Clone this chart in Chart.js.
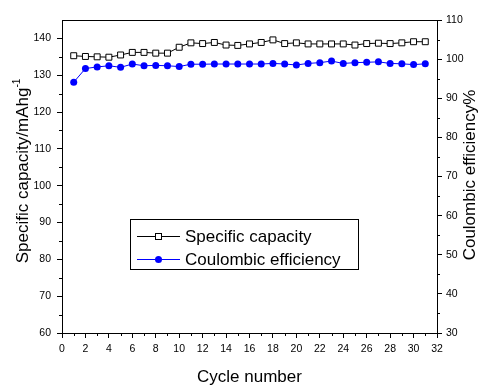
<!DOCTYPE html>
<html>
<head>
<meta charset="utf-8">
<script src="https://cdn.jsdelivr.net/npm/chart.js@4.4.1/dist/chart.umd.min.js"></script>
<style>
  body { margin: 0; background: #fff; }
  #chart { display: block; }
</style>
</head>
<body>
<canvas id="chart" width="479" height="385"></canvas>
<script>
// Cycle data
const cycles = [1, 2, 3, 4, 5, 6, 7, 8, 9, 10, 11, 12, 13, 14, 15, 16,
	17, 18, 19, 20, 21, 22, 23, 24, 25, 26, 27, 28, 29, 30, 31];
const capacity = [135.3, 135.1, 135.0, 134.9, 135.5, 136.2, 136.2, 136.0, 136.0, 137.6,
	138.8, 138.6, 138.9, 138.2, 138.1, 138.5, 138.9, 139.6, 138.6, 138.8, 138.5,
	138.5, 138.5, 138.5, 138.2, 138.6, 138.7, 138.6, 138.8, 139.1, 139.1];
const efficiency = [94.1, 97.6, 98.0, 98.3, 97.9, 98.75, 98.3, 98.4, 98.3, 98.1,
	98.7, 98.7, 98.75, 98.75, 98.75, 98.75, 98.75, 98.9, 98.75, 98.5, 98.9,
	99.1, 99.5, 98.9, 99.1, 99.2, 99.3, 98.9, 98.8, 98.6, 98.8];

const xTicks = { min: 0, max: 32, step: 2 };
const leftTicks = { min: 60, max: 145, step: 10 };
const rightTicks = { min: 30, max: 110, step: 10 };

const FONT = "'Liberation Sans', Arial, sans-serif";

// Minor ticks, frame, axis titles and legend
const decorPlugin = {
	id: "decor",
	afterDraw(chart) {
		const ctx = chart.ctx;
		const area = chart.chartArea;
		const x = chart.scales.x;
		const yl = chart.scales.y;
		const yr = chart.scales.y2;

		ctx.save();
		ctx.strokeStyle = "#000";
		ctx.lineWidth = 1;

		// top frame line
		ctx.beginPath();
		ctx.moveTo(area.left, area.top + 0.5);
		ctx.lineTo(area.right, area.top + 0.5);
		ctx.stroke();

		// minor ticks
		ctx.beginPath();
		for (let v = xTicks.min + 1; v < xTicks.max; v += 2) {
			const px = Math.round(x.getPixelForValue(v)) + 0.5;
			ctx.moveTo(px, area.bottom);
			ctx.lineTo(px, area.bottom + 3);
		}
		for (let v = leftTicks.min + 5; v < leftTicks.max; v += 10) {
			const py = Math.round(yl.getPixelForValue(v)) + 0.5;
			ctx.moveTo(area.left, py);
			ctx.lineTo(area.left - 3, py);
		}
		for (let v = rightTicks.min + 5; v < rightTicks.max; v += 10) {
			const py = Math.round(yr.getPixelForValue(v)) + 0.5;
			ctx.moveTo(area.right, py);
			ctx.lineTo(area.right + 3, py);
		}
		ctx.stroke();

		// axis titles
		ctx.fillStyle = "#000";
		ctx.font = "17px " + FONT;
		ctx.textAlign = "center";
		ctx.textBaseline = "alphabetic";
		ctx.fillText("Cycle number", (area.left + area.right) / 2, 382);

		// left title with superscript
		const main = "Specific capacity/mAhg";
		const sup = "-1";
		ctx.font = "17px " + FONT;
		const wMain = ctx.measureText(main).width;
		ctx.font = "10px " + FONT;
		const wSup = ctx.measureText(sup).width;
		ctx.save();
		ctx.translate(28, 171);
		ctx.rotate(-Math.PI / 2);
		ctx.textAlign = "left";
		const start = -(wMain + wSup) / 2;
		ctx.font = "17px " + FONT;
		ctx.fillText(main, start, 0);
		ctx.font = "10px " + FONT;
		ctx.fillText(sup, start + wMain, -8);
		ctx.restore();

		ctx.save();
		ctx.translate(475, 175);
		ctx.rotate(-Math.PI / 2);
		ctx.font = "17px " + FONT;
		ctx.textAlign = "center";
		ctx.fillText("Coulombic efficiency%", 0, 0);
		ctx.restore();

		// legend box
		const lx = 130, ly = 219, lw = 228, lh = 50;
		ctx.strokeRect(lx + 0.5, ly + 0.5, lw, lh);
		const rows = [
			{ text: "Specific capacity", color: "#000", y: ly + 17, square: true },
			{ text: "Coulombic efficiency", color: "#0000ff", y: ly + 40, square: false },
		];
		rows.forEach((r) => {
			ctx.strokeStyle = r.color;
			ctx.lineWidth = 1;
			ctx.beginPath();
			ctx.moveTo(137, r.y + 0.5);
			ctx.lineTo(180, r.y + 0.5);
			ctx.stroke();
			if (r.square) {
				ctx.fillStyle = "#fff";
				ctx.fillRect(155.5, r.y - 2.5, 6, 6);
				ctx.strokeStyle = "#000";
				ctx.strokeRect(155.5, r.y - 2.5, 6, 6);
			} else {
				ctx.fillStyle = "#0000ff";
				ctx.beginPath();
				ctx.arc(158.5, r.y + 0.5, 3.5, 0, Math.PI * 2);
				ctx.fill();
			}
			ctx.fillStyle = "#000";
			ctx.font = "17px " + FONT;
			ctx.textAlign = "left";
			ctx.textBaseline = "middle";
			ctx.fillText(r.text, 185, r.y + 1);
		});
		ctx.restore();
	},
};

const tickFont = { family: FONT, size: 10.5 };

new Chart(document.getElementById("chart"), {
	type: "line",
	data: {
		datasets: [
			{
				label: "Specific capacity",
				data: cycles.map((c, i) => ({ x: c, y: capacity[i] })),
				yAxisID: "y",
				borderColor: "#000",
				borderWidth: 1,
				pointStyle: "rect",
				pointRadius: 4.2,
				pointBackgroundColor: "#fff",
				pointBorderColor: "#000",
				pointBorderWidth: 1,
				tension: 0,
			},
			{
				label: "Coulombic efficiency",
				data: cycles.map((c, i) => ({ x: c, y: efficiency[i] })),
				yAxisID: "y2",
				borderColor: "#0000ff",
				borderWidth: 1,
				pointStyle: "circle",
				pointRadius: 3.5,
				pointBackgroundColor: "#0000ff",
				pointBorderColor: "#0000ff",
				pointBorderWidth: 0,
				tension: 0,
			},
		],
	},
	options: {
		responsive: false,
		animation: false,
		layout: { padding: { top: 20 } },
		plugins: {
			legend: { display: false },
			tooltip: { enabled: false },
		},
		scales: {
			x: {
				type: "linear",
				min: xTicks.min,
				max: xTicks.max,
				border: { display: true, color: "#000", width: 1 },
				grid: { drawOnChartArea: false, drawTicks: true, tickLength: 5, color: "#000" },
				ticks: { stepSize: xTicks.step, color: "#000", font: tickFont, padding: 5, maxRotation: 0 },
				afterFit: (s) => { s.height = 52; },
			},
			y: {
				position: "left",
				min: leftTicks.min,
				max: leftTicks.max,
				border: { display: true, color: "#000", width: 1 },
				grid: { drawOnChartArea: false, drawTicks: true, tickLength: 5, color: "#000" },
				ticks: { stepSize: leftTicks.step, includeBounds: false, color: "#000", font: tickFont, padding: 6 },
				afterFit: (s) => { s.width = 62; },
			},
			y2: {
				position: "right",
				min: rightTicks.min,
				max: rightTicks.max,
				border: { display: true, color: "#000", width: 1 },
				grid: { drawOnChartArea: false, drawTicks: true, tickLength: 5, color: "#000" },
				ticks: { stepSize: rightTicks.step, color: "#000", font: tickFont, padding: 4 },
				afterFit: (s) => { s.width = 42; },
			},
		},
	},
	plugins: [decorPlugin],
});
</script>
</body>
</html>
